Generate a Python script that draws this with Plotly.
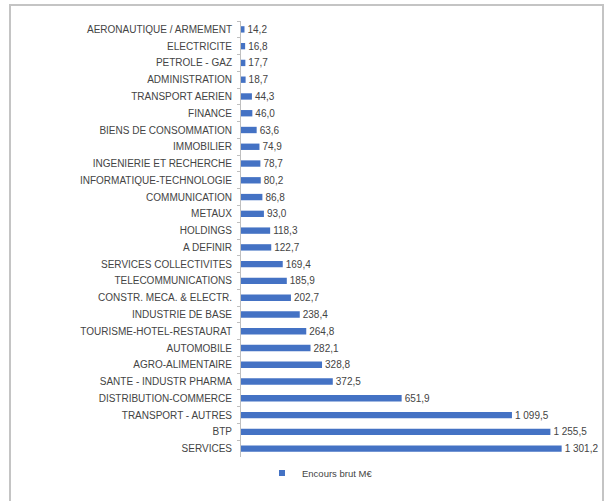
import plotly.graph_objects as go

categories = [
    "AERONAUTIQUE / ARMEMENT", "ELECTRICITE", "PETROLE - GAZ", "ADMINISTRATION",
    "TRANSPORT AERIEN", "FINANCE", "BIENS DE CONSOMMATION", "IMMOBILIER",
    "INGENIERIE ET RECHERCHE", "INFORMATIQUE-TECHNOLOGIE", "COMMUNICATION", "METAUX",
    "HOLDINGS", "A DEFINIR", "SERVICES COLLECTIVITES", "TELECOMMUNICATIONS",
    "CONSTR. MECA. & ELECTR.", "INDUSTRIE DE BASE", "TOURISME-HOTEL-RESTAURAT",
    "AUTOMOBILE", "AGRO-ALIMENTAIRE", "SANTE - INDUSTR PHARMA",
    "DISTRIBUTION-COMMERCE", "TRANSPORT - AUTRES", "BTP", "SERVICES",
]
values = [
    14.2, 16.8, 17.7, 18.7, 44.3, 46.0, 63.6, 74.9, 78.7, 80.2, 86.8, 93.0,
    118.3, 122.7, 169.4, 185.9, 202.7, 238.4, 264.8, 282.1, 328.8, 372.5,
    651.9, 1099.5, 1255.5, 1301.2,
]
series_name = "Encours brut M€"
bar_color = "#4472C4"
text_color = "#444444"

W, H = 607, 501
ml, mr, mt, mb = 241, 21, 21, 44
fig = go.Figure()
fig.add_trace(go.Bar(
    y=categories, x=values, orientation="h", name=series_name, showlegend=False,
    marker=dict(color=bar_color, line=dict(width=0)),
    texttemplate="%{x:,.1f}", textposition="outside", cliponaxis=False,
    constraintext="none",
    textfont=dict(size=10, color=text_color, family="Liberation Sans, Arial"),
))
# legend entry with a small square marker
fig.add_trace(go.Scatter(
    x=[None], y=[None], mode="markers", name=series_name, showlegend=True,
    marker=dict(symbol="square", size=6, color=bar_color),
))

pw = W - ml - mr
ph = H - mt - mb
def px(xp):
    return (xp - ml) / pw
def py(yp):
    return 1 - (yp - mt) / ph

fig.update_layout(
    width=W, height=H,
    margin=dict(l=ml, r=mr, t=mt, b=mb, autoexpand=False),
    paper_bgcolor="white", plot_bgcolor="white",
    separators=", ",
    bargap=0.62,
    font=dict(family="Liberation Sans, Arial", size=10, color=text_color),
    showlegend=True,
    legend=dict(orientation="h", x=px(320), xanchor="center", y=py(473), yanchor="middle",
                font=dict(size=9.5, color=text_color), itemwidth=30, bgcolor="rgba(0,0,0,0)"),
    xaxis=dict(range=[0, 1400], visible=False, fixedrange=True),
    yaxis=dict(autorange="reversed", showline=True, linecolor="#BFBFBF", linewidth=1,
               ticks="outside", ticklen=3, tickcolor="#BFBFBF", tickson="boundaries",
               showgrid=False, tickfont=dict(size=10, color=text_color), ticklabelstandoff=6,
               fixedrange=True),
    shapes=[dict(type="rect", xref="paper", yref="paper",
                 x0=px(10), x1=px(603), y0=py(5), y1=py(510),
                 line=dict(color="#C4C4C4", width=2), fillcolor="rgba(0,0,0,0)", layer="above")],
)

fig.write_html("out.html", config={"displayModeBar": False},
               post_script="document.body.style.margin='0';")
